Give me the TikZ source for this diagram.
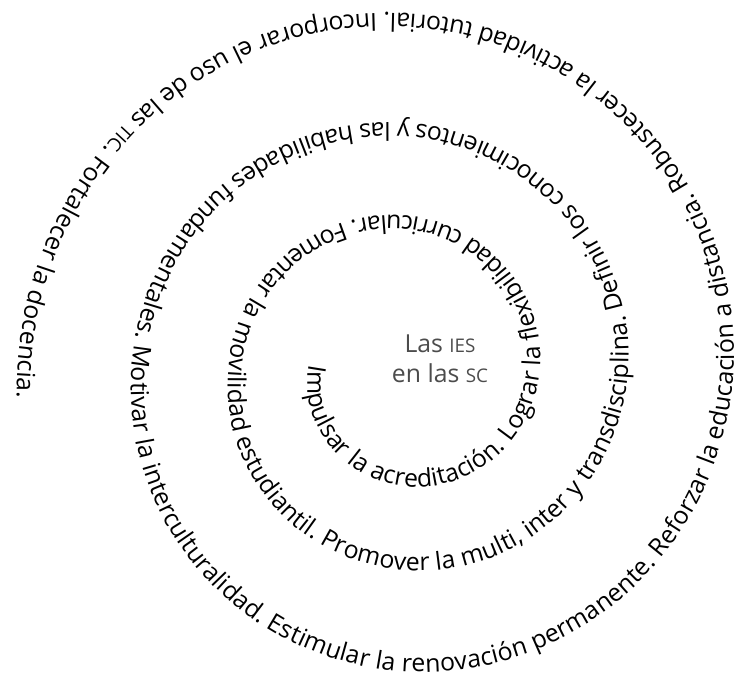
\documentclass[tikz,border=0pt]{standalone}
\usepackage{fontspec}
\setmainfont{Open Sans}
\usepackage{tikz}
\usetikzlibrary{decorations.text}
\newcommand{\spiralsize}{\fontsize{12.4}{14}\selectfont}
\newcommand{\capsize}{\fontsize{9.4}{11}\selectfont}
\tikzset{centre/.style={align=center,text=black!70,font=\spiralsize,inner sep=0pt}}

\begin{document}
\begin{tikzpicture}
  \useasboundingbox (-202.5pt,-156pt) rectangle (167pt,185.5pt);
  \node[centre] (ies) at (17.5pt,6pt) {Las {\capsize IES}\\[1pt]en las {\capsize SC}};
  \spiralsize
  % spiral of aims, read from the inside out
  \path[decorate, decoration={text along path, text align={fit to path},
      text={Impulsar la acreditación. Lograr la flexibilidad curricular. Fomentar la movilidad estudiantil. Promover la multi, inter y transdisciplina. Definir los conocimientos y las habilidades fundamentales. Motivar la interculturalidad. Estimular la renovación permanente. Reforzar la educación a distancia. Robustecer la actividad tutorial. Incorporar el uso de las |\capsize|TIC|\spiralsize|. Fortalecer la docencia.}}]
    plot[domain=176:1264, samples=360] ({\x}:{(31.8+0.08695*\x+(0.005746*\x)^2)*1pt});
\end{tikzpicture}
\end{document}
